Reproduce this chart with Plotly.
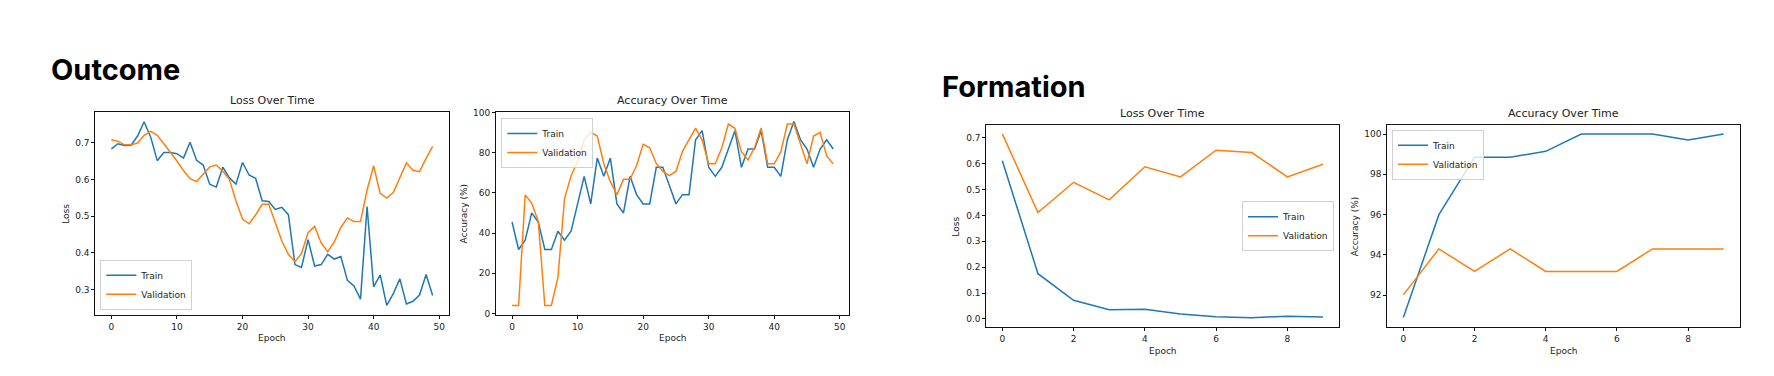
import plotly.graph_objects as go

# ---------------- data ----------------
outcome_epochs = list(range(50))
outcome_train_loss = [0.683, 0.697, 0.692, 0.693, 0.718, 0.757, 0.715, 0.651, 0.673, 0.673,
                      0.670, 0.658, 0.701, 0.652, 0.639, 0.587, 0.579, 0.633, 0.604, 0.587,
                      0.646, 0.612, 0.603, 0.542, 0.540, 0.518, 0.524, 0.504, 0.368, 0.360,
                      0.436, 0.364, 0.368, 0.396, 0.383, 0.390, 0.325, 0.310, 0.274, 0.526,
                      0.307, 0.340, 0.257, 0.289, 0.329, 0.261, 0.268, 0.285, 0.341, 0.284]
outcome_val_loss = [0.708, 0.704, 0.694, 0.694, 0.699, 0.720, 0.731, 0.720, 0.697, 0.674,
                    0.650, 0.624, 0.602, 0.594, 0.613, 0.634, 0.639, 0.622, 0.600, 0.542,
                    0.492, 0.479, 0.503, 0.532, 0.532, 0.482, 0.432, 0.396, 0.376, 0.398,
                    0.455, 0.472, 0.427, 0.403, 0.430, 0.469, 0.495, 0.485, 0.485, 0.571,
                    0.637, 0.562, 0.549, 0.564, 0.603, 0.645, 0.625, 0.621, 0.657, 0.690]
outcome_train_acc = [45.5, 31.8, 36.4, 50.0, 45.5, 31.8, 31.8, 40.9, 36.4, 40.9,
                     54.5, 68.2, 54.5, 77.3, 68.2, 77.3, 54.5, 50.0, 68.2, 59.1,
                     54.5, 54.5, 72.7, 72.7, 63.6, 54.5, 59.1, 59.1, 86.4, 90.9,
                     72.7, 68.2, 72.7, 81.8, 90.9, 72.7, 81.8, 81.8, 90.9, 72.7,
                     72.7, 68.2, 86.4, 95.5, 86.4, 81.8, 72.7, 81.8, 86.4, 81.8]
outcome_val_acc = [4.0, 4.0, 58.9, 54.9, 45.8, 4.0, 4.0, 18.0, 57.0, 68.4,
                   75.6, 86.2, 90.1, 88.2, 74.4, 65.4, 59.1, 66.7, 66.7, 73.6,
                   84.1, 82.4, 74.6, 70.6, 68.6, 70.6, 80.6, 86.6, 92.2, 86.2,
                   74.4, 74.4, 82.4, 94.2, 92.1, 80.3, 76.4, 82.5, 92.2, 74.4,
                   74.4, 80.3, 94.2, 94.2, 84.1, 74.4, 88.2, 90.1, 78.3, 74.4]

formation_epochs = list(range(10))
formation_train_loss = [0.611, 0.175, 0.072, 0.036, 0.038, 0.019, 0.009, 0.005, 0.011, 0.008]
formation_val_loss = [0.715, 0.411, 0.528, 0.460, 0.588, 0.549, 0.652, 0.643, 0.549, 0.598]
formation_train_acc = [90.9, 96.0, 98.85, 98.85, 99.14, 100.0, 100.0, 100.0, 99.71, 100.0]
formation_val_acc = [92.02, 94.3, 93.18, 94.3, 93.18, 93.18, 93.18, 94.3, 94.3, 94.3]

BLUE = "#1f77b4"
ORANGE = "#ff7f0e"
W, H = 1774, 376
TXT = "#222222"
FONT = "DejaVu Sans"

def px_x(p):
    return p / W

def px_y(p):
    return 1 - p / H

fig = go.Figure()

panels = [
    dict(n="", xd=(95.3, 448.7), yd=(110, 317.3), xr=[-2.45, 51.45], yr=[0.2315, 0.7825],
         xdt=10, ydt=0.1, yfmt=".1f", ylabel="Loss", title="Loss Over Time",
         x=outcome_epochs, tr=outcome_train_loss, va=outcome_val_loss, legend="legend",
         leg=dict(x=px_x(100.3), y=px_y(312.3), xanchor="left", yanchor="bottom")),
    dict(n="2", xd=(496, 849.3), yd=(110, 317.3), xr=[-2.45, 51.45], yr=[-0.6, 100.0],
         xdt=10, ydt=20, yfmt="", ylabel="Accuracy (%)", title="Accuracy Over Time",
         x=outcome_epochs, tr=outcome_train_acc, va=outcome_val_acc, legend="legend2",
         leg=dict(x=px_x(501.3), y=px_y(115.7), xanchor="left", yanchor="top")),
    dict(n="3", xd=(986.3, 1339), yd=(123.3, 330.3), xr=[-0.45, 9.45], yr=[-0.0325, 0.748],
         xdt=2, ydt=0.1, yfmt=".1f", ylabel="Loss", title="Loss Over Time",
         x=formation_epochs, tr=formation_train_loss, va=formation_val_loss, legend="legend3",
         leg=dict(x=px_x(1334), y=px_y(226.7), xanchor="right", yanchor="middle")),
    dict(n="4", xd=(1387.3, 1739.7), yd=(122.7, 330), xr=[-0.45, 9.45], yr=[90.42, 100.46],
         xdt=2, ydt=2, yfmt="", ylabel="Accuracy (%)", title="Accuracy Over Time",
         x=formation_epochs, tr=formation_train_acc, va=formation_val_acc, legend="legend4",
         leg=dict(x=px_x(1392), y=px_y(127.7), xanchor="left", yanchor="top")),
]

layout = dict(
    width=W, height=H,
    margin=dict(l=0, r=0, t=0, b=0),
    paper_bgcolor="white", plot_bgcolor="white",
    font=dict(family=FONT, size=9, color=TXT),
    annotations=[],
    showlegend=True,
)

for p in panels:
    n = p["n"]
    xa = "x" + n
    ya = "y" + n
    for name, vals, col in (("Train", p["tr"], BLUE), ("Validation", p["va"], ORANGE)):
        fig.add_trace(go.Scatter(x=p["x"], y=vals, mode="lines", name=name,
                                 line=dict(color=col, width=1.5),
                                 xaxis=xa, yaxis=ya, legend=p["legend"]))
    axcommon = dict(showgrid=False, zeroline=False, showline=True, mirror=True,
                    linecolor="#111111", linewidth=1, ticks="outside", ticklen=3,
                    tickwidth=1, tickcolor="#111111", tickfont=dict(family=FONT, size=9, color=TXT))
    layout["xaxis" + n] = dict(domain=[px_x(p["xd"][0]), px_x(p["xd"][1])], range=p["xr"],
                               tickmode="linear", tick0=0, dtick=p["xdt"],
                               anchor=ya, **axcommon)
    layout["yaxis" + n] = dict(domain=[px_y(p["yd"][1]), px_y(p["yd"][0])], range=p["yr"],
                               tickmode="linear", tick0=0, dtick=p["ydt"], tickformat=p["yfmt"],
                               anchor=xa, **axcommon)
    layout[p["legend"]] = dict(**p["leg"], xref="paper", yref="paper",
                               bgcolor="rgba(255,255,255,0.8)", bordercolor="#d0d0d0",
                               borderwidth=1, font=dict(family=FONT, size=9, color=TXT),
                               tracegroupgap=0, itemwidth=30)
    xc = (p["xd"][0] + p["xd"][1]) / 2
    yc = (p["yd"][0] + p["yd"][1]) / 2
    layout["annotations"].append(dict(text=p["title"], x=px_x(xc), y=px_y(p["yd"][0] - 3),
                                      xref="paper", yref="paper", xanchor="center", yanchor="bottom",
                                      showarrow=False, font=dict(family=FONT, size=11, color=TXT)))
    layout["annotations"].append(dict(text="Epoch", x=px_x(xc), y=px_y(p["yd"][1] + 17),
                                      xref="paper", yref="paper", xanchor="center", yanchor="top",
                                      showarrow=False, font=dict(family=FONT, size=9, color=TXT)))
    ylx = p["xd"][0] - (30 if p["ylabel"] == "Loss" else 32)
    layout["annotations"].append(dict(text=p["ylabel"], x=px_x(ylx), y=px_y(yc),
                                      xref="paper", yref="paper", xanchor="center", yanchor="middle",
                                      textangle=-90, showarrow=False,
                                      font=dict(family=FONT, size=9, color=TXT)))

layout["annotations"].append(dict(text="<b>Outcome</b>", x=px_x(49), y=px_y(66),
                                  xref="paper", yref="paper", xanchor="left", yanchor="middle",
                                  showarrow=False, font=dict(family="Inter", size=29, color="#000000")))
layout["annotations"].append(dict(text="<b>Formation</b>", x=px_x(940.5), y=px_y(83.5),
                                  xref="paper", yref="paper", xanchor="left", yanchor="middle",
                                  showarrow=False, font=dict(family="Inter", size=29, color="#000000")))

fig.update_layout(**layout)
fig.write_html("out.html", config={"displayModeBar": False},
               post_script="document.body.style.margin='0';")
